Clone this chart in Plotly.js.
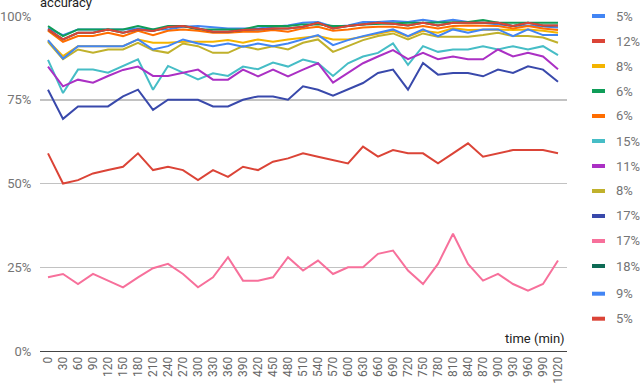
<!DOCTYPE html>
<html>
<head>
<meta charset="utf-8">
<script src="https://cdn.plot.ly/plotly-3.0.1.min.js"></script>
<style>
  html, body { margin: 0; padding: 0; background: #fff; }
  #chart { width: 640px; height: 389px; }
</style>
</head>
<body>
<div id="chart"></div>
<script>
// tiempo en minutos (eje x)
const times = [0, 30, 60, 90, 120, 150, 180, 210, 240, 270, 300, 330, 360, 390, 420, 450, 480, 510, 540,
  570, 600, 630, 660, 690, 720, 750, 780, 810, 840, 870, 900, 930, 960, 990, 1020]

// ticks del eje y
const yTicks = [0, 25, 50, 75, 100]
const yTickText = ["0%", "25%", "50%", "75%", "100%"]

// series de accuracy (%)
const blue5 = [96.3, 94.3, 96, 96, 96, 96, 96.3, 96, 96, 96.8, 97, 96.6, 96.3, 96.3, 96.3, 96.8, 97.2, 98,
  98.2, 96.8, 97.2, 98.2, 98.2, 98.5, 98.2, 98.9, 98.2, 98.9, 98.2, 98, 97.5, 97, 97.2, 97, 96.6]
const red12 = [59, 50, 51, 53, 54, 55, 59, 54, 55, 54, 51, 54, 52, 55, 54, 56.5, 57.5, 59, 58,
  57, 56, 61, 58, 60, 59, 59, 56, 59, 62, 58, 59, 60, 60, 60, 59]
const yellow8 = [92.6, 88, 91, 91, 91, 91, 93, 92, 92, 92.3, 92.3, 92.3, 92.8, 92, 93, 92.3, 93, 93.5,
  94, 93, 93, 93.8, 94.8, 95.6, 93.8, 95.6, 95, 96.3, 95.8, 96, 96, 95.8, 96, 95.6, 95]
const green6 = [97, 94, 96, 96, 96, 96, 97, 96, 97, 97, 96, 96, 96, 96, 97, 97, 97, 97.5,
  97.5, 97, 97, 97.5, 97.7, 98, 98, 98, 98, 98.2, 98.2, 98.8, 98, 98, 98, 98, 98]
const orange6 = [95.6, 92.3, 94, 94, 95, 94, 95.6, 94.3, 95.6, 96, 95.6, 95, 95, 95.3, 95.3, 95.8, 95.3, 96.3,
  96.8, 95.6, 96, 96.6, 96.8, 96.8, 96.3, 97, 96.3, 97, 97.2, 97.2, 97, 96.3, 97, 96.3, 95.8]
const teal15 = [86.9, 77, 84, 84, 83.1, 85.1, 87.1, 78, 85.1, 83.1, 81.1, 82.9, 82.1, 84.9, 84.1, 86.1, 84.9, 87,
  85.9, 82.1, 85.9, 87.9, 89, 91.8, 85.4, 91, 89.3, 90, 90, 91, 90, 91, 90, 91, 88.3]
const purple11 = [84.9, 79, 81, 80.1, 82.1, 83.9, 84.9, 82.1, 82.1, 83, 84, 81, 81, 84, 82, 84, 82, 84,
  85.9, 80.1, 82.9, 85.9, 87.9, 89.8, 87.1, 89, 87.1, 87.9, 87.1, 87.1, 90, 87.9, 89, 87.9, 84.1]
const olive8 = [92.3, 87.1, 90, 89, 90, 90, 92, 89.8, 89, 91.8, 91, 89, 89, 91, 90, 91, 90, 92,
  93, 89.3, 91, 92.8, 94, 94.8, 93, 94.8, 93.8, 93.8, 93.8, 94.3, 95, 94, 94, 93.6, 92]
const darkBlue17 = [78, 69.3, 73, 73, 73, 76, 78, 72, 75, 75, 75, 73, 73, 75, 76, 76, 75, 79,
  78, 76.2, 78, 80, 83, 84, 78, 86, 82.5, 83, 83, 82, 84, 83, 85, 84, 80.4]
const pink17 = [22, 23, 20, 23, 21, 19, 22, 24.7, 26, 23, 19, 22, 28, 21, 21, 22, 28, 24, 27,
  23, 25, 25, 29, 30, 24, 20, 26, 35, 26, 21, 23, 20, 18, 20, 27]
const darkGreen18 = [96, 93, 95, 95, 96, 95, 96, 95.5, 96.7, 97, 96.3, 95.3, 95.3, 95.8, 96, 96.3, 96.3, 96.8,
  98, 96.3, 97, 97.5, 98, 97.7, 97.2, 98, 97.2, 98, 98, 98, 98, 97, 98, 97.2, 97.2]
const blue9 = [92.8, 87.3, 91, 91, 91, 91, 93, 90, 91, 93, 91.8, 91, 91.8, 90.8, 91.8, 91, 91.8, 93,
  94.3, 91.3, 92.8, 94, 95, 96, 94, 96, 94, 96, 95, 96, 96, 94, 96, 94.3, 94.3]
const red5 = [96, 93, 95, 95, 96, 95, 96, 95.5, 96.7, 97, 96.3, 95.3, 95.3, 95.8, 96, 96.3, 96.3, 96.8,
  98, 96.3, 97, 97.5, 98, 97.7, 97.2, 98, 97.2, 98, 98, 98, 98, 97, 98, 97.2, 97.2]

const seriesLabels = ["5%", "12%", "8%", "6%", "6%", "15%", "11%", "8%", "17%", "17%", "18%", "9%", "5%"]
const seriesValues = [blue5, red12, yellow8, green6, orange6, teal15, purple11, olive8, darkBlue17, pink17,
  darkGreen18, blue9, red5]

// colores (estilo, no datos)
const colores = ["#4285F4", "#DB4437", "#F4B400", "#0F9D58", "#FF6D00", "#46BDC6", "#AB30C4", "#C0B12C",
  "#3949AB", "#F7709B", "#0E6B55", "#4285F4", "#DB4437"]

const traces = seriesValues.map((vals, i) => ({
  x: times,
  y: vals,
  type: "scatter",
  mode: "lines",
  name: seriesLabels[i],
  line: { color: colores[i], width: 2 },
  hoverinfo: "skip",
}))

// area de trazado en pixeles
const plotTop = 16, plotBottom = 351
const pxToPaperY = (py) => (plotBottom - py) / (plotBottom - plotTop)
const pxToPaperX = (px) => (px - 40) / (567 - 40)

const shapes = []
const annotations = []

// leyenda a mano: muestra de color + texto
seriesLabels.forEach((lab, i) => {
  const cy = i < 11 ? 16 + 25 * i : 18.7 + 25 * i
  shapes.push({
    type: "rect", xref: "paper", yref: "paper",
    x0: pxToPaperX(592), x1: pxToPaperX(605),
    y0: pxToPaperY(cy + 2), y1: pxToPaperY(cy - 2),
    fillcolor: colores[i], line: { width: 0 },
  })
  annotations.push({
    xref: "paper", yref: "paper",
    x: pxToPaperX(614), y: pxToPaperY(cy),
    xanchor: "left", yanchor: "middle",
    text: lab, showarrow: false,
    font: { family: "Roboto, sans-serif", size: 13, color: "#757575" },
  })
})

annotations.push({
  xref: "paper", yref: "paper",
  x: pxToPaperX(38), y: pxToPaperY(2),
  xanchor: "left", yanchor: "middle",
  text: "accuracy", showarrow: false,
  font: { family: "Roboto, sans-serif", size: 13, color: "#222" },
})
annotations.push({
  xref: "paper", yref: "paper",
  x: 1, y: pxToPaperY(338),
  xanchor: "right", yanchor: "middle",
  text: "time (min)", showarrow: false,
  font: { family: "Roboto, sans-serif", size: 13, color: "#222" },
})

const layout = {
  width: 640,
  height: 389,
  margin: { l: 40, r: 73, t: plotTop, b: 389 - plotBottom },
  paper_bgcolor: "#ffffff",
  plot_bgcolor: "#ffffff",
  showlegend: false,
  font: { family: "Roboto, sans-serif" },
  xaxis: {
    range: [-16, 1038],
    tickmode: "array",
    tickvals: times,
    ticktext: times.map(String),
    tickangle: -90,
    tickfont: { size: 12, color: "#666" },
    showgrid: false,
    zeroline: false,
    showline: true,
    linecolor: "#444",
    linewidth: 1,
    ticks: "",
  },
  yaxis: {
    range: [0, 100],
    tickmode: "array",
    tickvals: yTicks,
    ticktext: yTickText,
    tickfont: { size: 13, color: "#757575" },
    showgrid: true,
    gridcolor: "#c2c2c2",
    gridwidth: 1.5,
    zeroline: false,
    ticks: "outside",
    ticklen: 5,
    tickcolor: "rgba(0,0,0,0)",
  },
  shapes: shapes,
  annotations: annotations,
}

Plotly.newPlot("chart", traces, layout, { displayModeBar: false, staticPlot: true })
</script>
</body>
</html>
